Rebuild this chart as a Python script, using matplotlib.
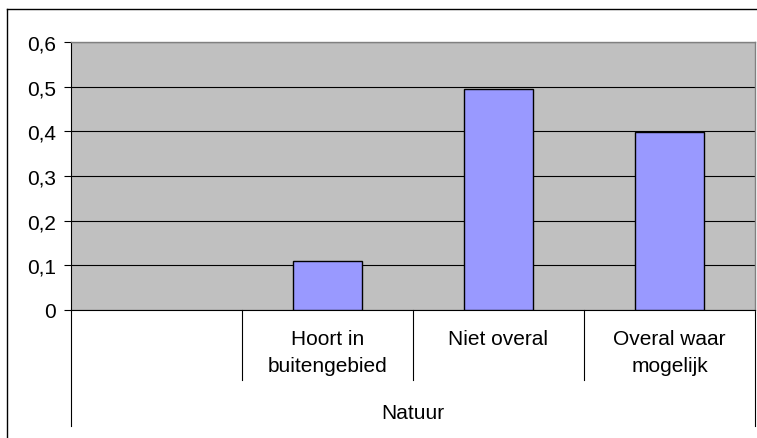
import numpy as np
import matplotlib
matplotlib.use("Agg")
import matplotlib.pyplot as plt
from matplotlib.lines import Line2D

plt.rcParams['font.family'] = ['Liberation Sans', 'DejaVu Sans']

# categories (first slot is empty in the original sheet)
categories = ["", "Hoort in\nbuitengebied", "Niet overal", "Overal waar\nmogelijk"]
values = [np.nan, 0.11, 0.494, 0.398]
group_label = "Natuur"
yticks = [0, 0.1, 0.2, 0.3, 0.4, 0.5, 0.6]
ytick_labels = ["0", "0,1", "0,2", "0,3", "0,4", "0,5", "0,6"]

W, H = 757, 439
fs = 15
fig = plt.figure(figsize=(W / 100, H / 100), dpi=100)
fig.patch.set_facecolor("white")

# plot area in pixels
left, right, top, bottom = 71, 755, 43, 311
ax = fig.add_axes([left / W, 1 - bottom / H, (right - left) / W, (bottom - top) / H])
ax.set_facecolor("#C0C0C0")

x = np.arange(len(categories))
mask = ~np.isnan(values)
ax.bar(x[mask], np.array(values)[mask], width=0.4, color="#9999FF",
       edgecolor="black", linewidth=1.0, zorder=3)

ax.set_xlim(-0.5, len(categories) - 0.5)
ax.set_ylim(0, 0.6)
ax.set_yticks(yticks)
ax.set_yticklabels(ytick_labels, fontsize=fs)
ax.tick_params(axis="y", direction="out", length=5, width=0.8, pad=6, colors="black")
ax.set_xticks([])
ax.yaxis.grid(True, color="black", linewidth=0.8)
ax.set_axisbelow(True)

for s in ["top", "right"]:
    ax.spines[s].set_color("#808080")
    ax.spines[s].set_linewidth(1.0)
for s in ["left", "bottom"]:
    ax.spines[s].set_color("black")
    ax.spines[s].set_linewidth(0.8)

# category axis: separators and labels
ph = bottom - top
trans = ax.get_xaxis_transform()
sep_bottom = -(381 - bottom) / ph
outer_bottom = -(427 - bottom) / ph
for i in range(1, len(categories)):
    ax.add_line(Line2D([i - 0.5, i - 0.5], [0, sep_bottom], transform=trans,
                       color="black", linewidth=0.8, clip_on=False))
for xe in [-0.5, len(categories) - 0.5]:
    ax.add_line(Line2D([xe, xe], [0, outer_bottom], transform=trans,
                       color="black", linewidth=0.8, clip_on=False))
for i, lab in enumerate(categories):
    ax.text(i, -(330 - bottom) / ph, lab, transform=trans, ha="center", va="top",
            fontsize=fs, linespacing=1.55)
ax.text((len(categories) - 1) / 2, -(414 - bottom) / ph, group_label, transform=trans,
        ha="center", va="center", fontsize=fs)

# chart border
fig.add_artist(Line2D([7 / W, 7 / W], [0, 1 - 10 / H], transform=fig.transFigure,
                      color="black", linewidth=1.0))
fig.add_artist(Line2D([7 / W, 1], [1 - 10 / H, 1 - 10 / H], transform=fig.transFigure,
                      color="black", linewidth=1.0))

fig.savefig("out.png", dpi=100)
